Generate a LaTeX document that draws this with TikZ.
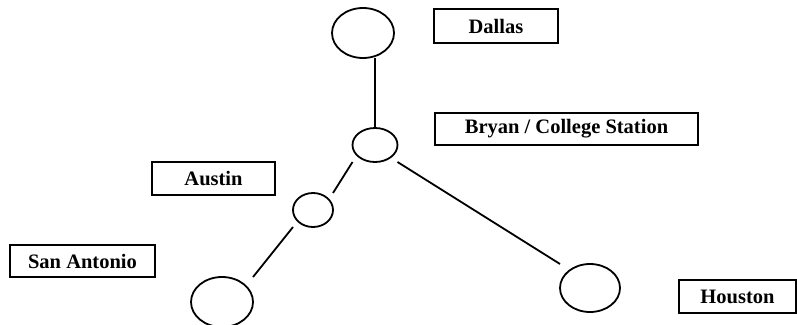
\documentclass[tikz,border=0pt]{standalone}
\usepackage{fontspec}
\setmainfont{Liberation Serif}
\usetikzlibrary{shapes.geometric}
\begin{document}
\begin{tikzpicture}[x=1pt,y=-1pt,
  city/.style={draw, line width=1.8pt, ellipse, inner sep=0pt, outer sep=0pt},
  label/.style={draw, line width=1.8pt, rectangle, inner sep=0pt, outer sep=0pt,
    font=\fontsize{20.5}{24}\selectfont\bfseries},
  road/.style={line width=1.8pt}]
\useasboundingbox (0,0) rectangle (797,324);
% circles
\node[city, minimum width=62pt, minimum height=50pt] (dallas) at (363,33) {};
\node[city, minimum width=45pt, minimum height=34pt] (bryan) at (375,145) {};
\node[city, minimum width=40pt, minimum height=34pt] (austin) at (313,210) {};
\node[city, minimum width=62pt, minimum height=50pt] (sa) at (222,302) {};
\node[city, minimum width=60pt, minimum height=48pt] (houston) at (590,288) {};
% labels
\node[label, minimum width=124pt, minimum height=34pt] (ldallas) at (496,26) {Dallas};
\node[label, minimum width=263pt, minimum height=32pt] (lbryan) at (566.5,129) {Bryan / College Station};
\node[label, minimum width=123pt, minimum height=33pt] (laustin) at (213.5,178.5) {Austin};
\node[label, minimum width=145pt, minimum height=32pt] (lsa) at (82.5,261) {San Antonio};
\node[label, minimum width=117pt, minimum height=33pt] (lhouston) at (737.5,296.5) {Houston};
% roads
\draw[road] (bryan.north) -- (bryan.north |- dallas.south);
\draw[road] (bryan.south -| bryan.west) -- (austin.north -| austin.east);
\draw[road] (bryan.south -| bryan.east) -- (houston.north -| houston.west);
\draw[road] (austin.south -| austin.west) -- (sa.north -| sa.east);
\end{tikzpicture}
\end{document}
